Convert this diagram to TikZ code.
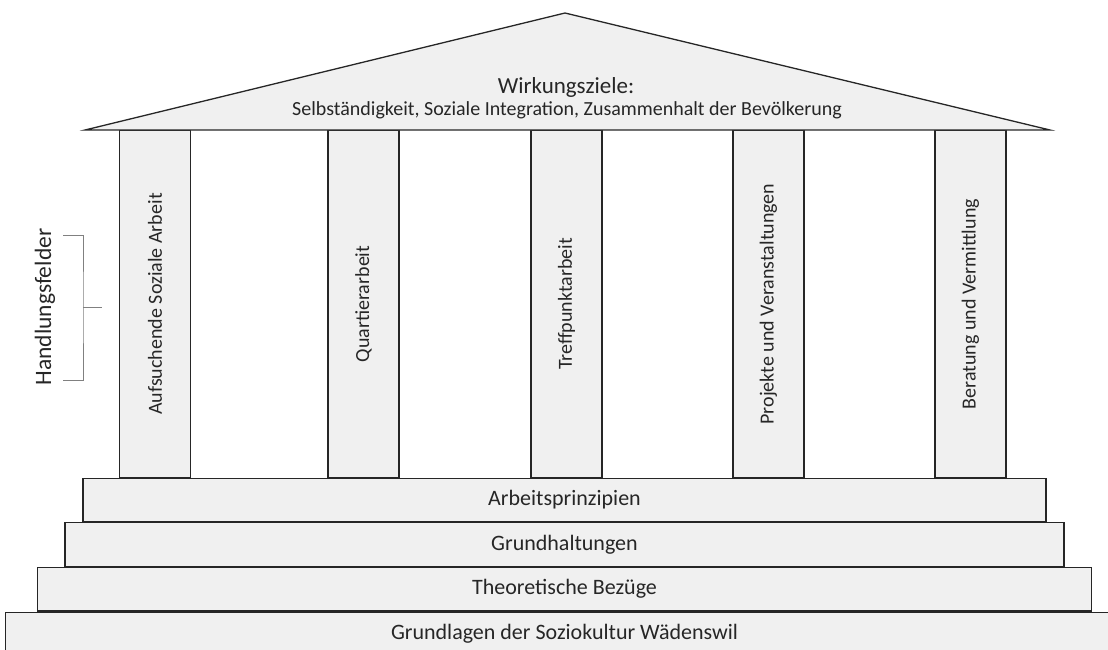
\documentclass[tikz,border=0pt]{standalone}
\usepackage{fontspec}
\setmainfont{Carlito}
\usetikzlibrary{positioning}
\tikzset{
  every node/.style={
    font=\fontsize{20}{22}\selectfont,
    text=black!85
  },
  pillar/.style={
    shape=rectangle,
    draw=black!85,
    line width=1.1pt,
    fill=gray!12,
    rotate=90,
    minimum width=348pt,
    minimum height=71pt,
    inner sep=0pt
  },
  stepbox/.style={
    shape=rectangle,
    draw=black!85,
    line width=1.1pt,
    fill=gray!12,
    font=\fontsize{22}{24}\selectfont,
    minimum width=#1,
    minimum height=43.5pt,
    inner sep=0pt
  },
  roof/.style={
    draw=black!85,
    line width=1.3pt,
    fill=gray!12,
    line join=miter
  },
  bracket/.style={
    draw=gray,
    line width=0.9pt
  }
}

\begin{document}
\begin{tikzpicture}[x=1pt,y=-1pt]
\useasboundingbox (0,0) rectangle (1108,649);

% Handlungsfelder (Saeulen)
\node [pillar] (aufsuchend) at (155,304)   { Aufsuchende Soziale Arbeit };
\node [pillar] (quartier)   at (363.5,304) { Quartierarbeit };
\node [pillar] (treffpunkt) at (566.5,304) { Treffpunktarbeit };
\node [pillar] (projekte)   at (768.5,304) { Projekte und Veranstaltungen };
\node [pillar] (beratung)   at (970.5,304) { Beratung und Vermittlung };

% Stufen
\node [stepbox=963pt] (prinzipien) at (564.5,500) { Arbeitsprinzipien };
\node [stepbox=999pt, below=0pt of prinzipien] (haltungen) { Grundhaltungen };
\node [stepbox=1054pt, below=0pt of haltungen] (bezuege) { Theoretische Bezüge };
\node [stepbox=1118pt, below=0pt of bezuege] (grundlagen) { Grundlagen der Soziokultur Wädenswil };

% Dach
\draw [roof] (85,130) -- (565,13) -- (1050,130) -- cycle;
\node [font=\fontsize{23}{25}\selectfont] (ziele) at (566,87) { Wirkungsziele: };
\node [font=\fontsize{20}{22}\selectfont] (zielliste) at (567,110)
  { Selbständigkeit, Soziale Integration, Zusammenhalt der Bevölkerung };

% Klammer
\coordinate (klammer oben) at (63,235);
\coordinate (klammer unten) at (63,380);
\coordinate (klammer mitte) at (83,307);
\draw [bracket] (klammer oben) -| (klammer mitte) |- (klammer unten);
\draw [bracket] (klammer mitte) -- ++(19,0);
\node [rotate=90, font=\fontsize{23.5}{25}\selectfont] (handlungsfelder) at (45,307) { Handlungsfelder };

\end{tikzpicture}
\end{document}
